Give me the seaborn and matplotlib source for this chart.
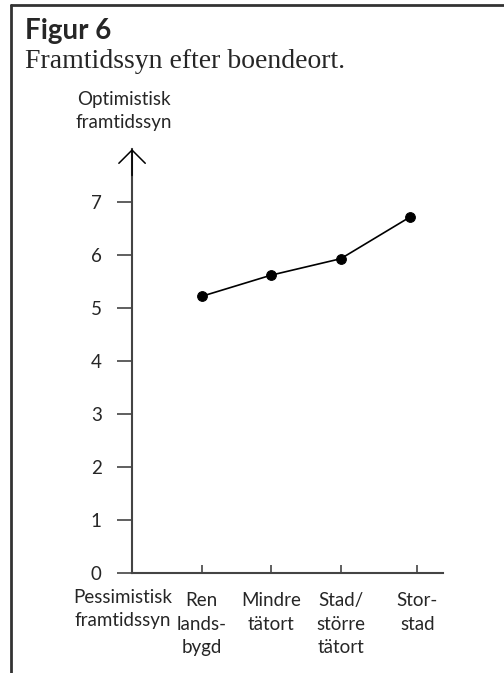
import numpy as np
import pandas as pd
import matplotlib
matplotlib.use("Agg")
import matplotlib.pyplot as plt
import seaborn as sns
from matplotlib.lines import Line2D

# Data
categories = ["Ren\nlands-\nbygd", "Mindre\ntätort", "Stad/\nstörre\ntätort", "Stor-\nstad"]
values = [5.22, 5.62, 5.93, 6.72]
y_ticks = [0, 1, 2, 3, 4, 5, 6, 7]
y_ticklabels = ["0", "1", "2", "3", "4", "5", "6", "7"]

title_bold = "Figur 6"
title_main = "Framtidssyn efter boendeort."
y_top_label = "Optimistisk\nframtidssyn"
y_bottom_label = "Pessimistisk\nframtidssyn"

sns.set_style("white")
plt.rcParams['font.family'] = ['Lato', 'DejaVu Sans']

df = pd.DataFrame({"pos": np.arange(1, len(values) + 1), "value": values})
tick_pos = [1, 2, 3, 4.1]

fig = plt.figure(figsize=(5.04, 6.73), dpi=100)
ax = fig.add_axes([0.262, 0.1486, 0.617, 0.63])

sns.lineplot(data=df, x="pos", y="value", ax=ax, color="black", linewidth=1.2,
             marker="o", markersize=7, markeredgecolor="black", markerfacecolor="black")

axis_col = "#444444"
ax.set_xlim(0, 4.47)
ax.set_ylim(0, 8)
ax.set_xlabel("")
ax.set_ylabel("")
for s in ["top", "right"]:
    ax.spines[s].set_visible(False)
for s in ["left", "bottom"]:
    ax.spines[s].set_color(axis_col)
    ax.spines[s].set_linewidth(1.5)

ax.set_yticks(y_ticks)
ax.set_yticklabels(y_ticklabels, fontsize=13.5)
ax.tick_params(axis="y", left=True, direction="out", length=10.8, width=1.2,
               color=axis_col, pad=11)
ax.set_xticks(tick_pos)
ax.set_xticklabels(categories, fontsize=13.5, linespacing=1.45)
ax.tick_params(axis="x", bottom=True, direction="in", length=5.5, width=1.2,
               color=axis_col, pad=14)

# arrow on top of y-axis
ax.annotate("", xy=(0, 8), xytext=(0, 7.5), xycoords="data",
            arrowprops=dict(arrowstyle="->,head_length=0.95,head_width=0.95",
                            mutation_scale=10, lw=1.1, color="black",
                            shrinkA=0, shrinkB=0),
            annotation_clip=False)

ax.annotate(y_top_label, xy=(0, 8), xytext=(-6, 13), textcoords="offset points",
            ha="center", va="bottom", fontsize=13.5, linespacing=1.4, annotation_clip=False)
ax.annotate(y_bottom_label, xy=(0, 0), xytext=(-7, -11.5), textcoords="offset points",
            ha="center", va="top", fontsize=13.5, linespacing=1.45, annotation_clip=False)

fig.text(0.05, 0.942, title_bold, fontsize=20, fontweight="bold", family=["Lato", "DejaVu Sans"])
fig.text(0.05, 0.899, title_main, fontsize=20, family=["Liberation Serif", "DejaVu Serif"])

# frame lines
fig.add_artist(Line2D([0.022, 1.0], [0.9926, 0.9926], color="#333333", lw=2))
fig.add_artist(Line2D([0.022, 0.022], [0.0, 0.9926], color="#333333", lw=2))

fig.savefig("out.png", dpi=100)
